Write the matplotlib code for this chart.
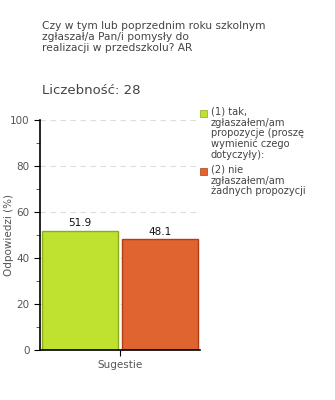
import matplotlib.pyplot as plt
import numpy as np

# data
categories = ['(1) tak,\nzgłaszałem/am\npropozycje (proszę\nwymienić czego\ndotyczyły):',
              '(2) nie\nzgłaszałem/am\nżadnych propozycji']
values = [51.9, 48.1]
colors = ['#bee22f', '#e06430']
edges = ['#8aad1c', '#b43c12']
group_label = 'Sugestie'
title = 'Czy w tym lub poprzednim roku szkolnym\nzgłaszał/a Pan/i pomysły do\nrealizacji w przedszkolu? AR'
count_text = 'Liczebność: 28'

fig = plt.figure(figsize=(3.35, 4.0), dpi=100)
ax = fig.add_axes([40 / 335, 0.125, 160 / 335, 0.575])

x = np.arange(len(values)) + 0.5
bars = ax.bar(x, values, width=0.95, color=colors, edgecolor=edges, linewidth=1)
for xi, v in zip(x, values):
    ax.text(xi, v + 1, f'{v:.1f}', ha='center', va='bottom', fontsize=7.5, color='#111111')

ax.set_xlim(0, 2)
ax.set_ylim(0, 100)
ax.set_yticks(range(0, 101, 20))
ax.set_yticks(range(10, 100, 20), minor=True)
ax.tick_params(axis='y', which='major', length=4, color='black', labelsize=7.5, labelcolor='#555555')
ax.tick_params(axis='y', which='minor', length=3, color='#cc0000')
ax.set_xticks([1])
ax.set_xticklabels([group_label])
ax.tick_params(axis='x', length=4, labelsize=7.5, labelcolor='#555555')
ax.yaxis.grid(True, linestyle=(0, (5, 4)), color='#dddddd', linewidth=0.8)
ax.set_axisbelow(True)
for s in ['top', 'right']:
    ax.spines[s].set_visible(False)
ax.spines['left'].set_linewidth(1.2)
ax.spines['bottom'].set_linewidth(1.2)
ax.set_ylabel('Odpowiedzi (%)', fontsize=7.5, color='#555555')
ax.yaxis.set_label_coords(-26 / 160, 0.5)

fig.text(42 / 335, 1 - 21 / 400, title, fontsize=7.7, color='#444444', va='top', ha='left',
         linespacing=1.1)
fig.text(42 / 335, 1 - 90 / 400, count_text, fontsize=9.5, color='#444444', va='center', ha='left')

# legend drawn by hand
ly = [113, 171]
for yy, lab, c, e in zip(ly, categories, colors, edges):
    fig.patches.append(plt.Rectangle((200 / 335, 1 - (yy + 3.5) / 400), 7 / 335, 7 / 400,
                                     transform=fig.transFigure, facecolor=c, edgecolor=e,
                                     linewidth=0.5))
    fig.text(211 / 335, 1 - (yy - 6) / 400, lab, fontsize=7.1, color='#444444', va='top',
             ha='left', linespacing=1.08)

fig.savefig('out.png', dpi=100)
